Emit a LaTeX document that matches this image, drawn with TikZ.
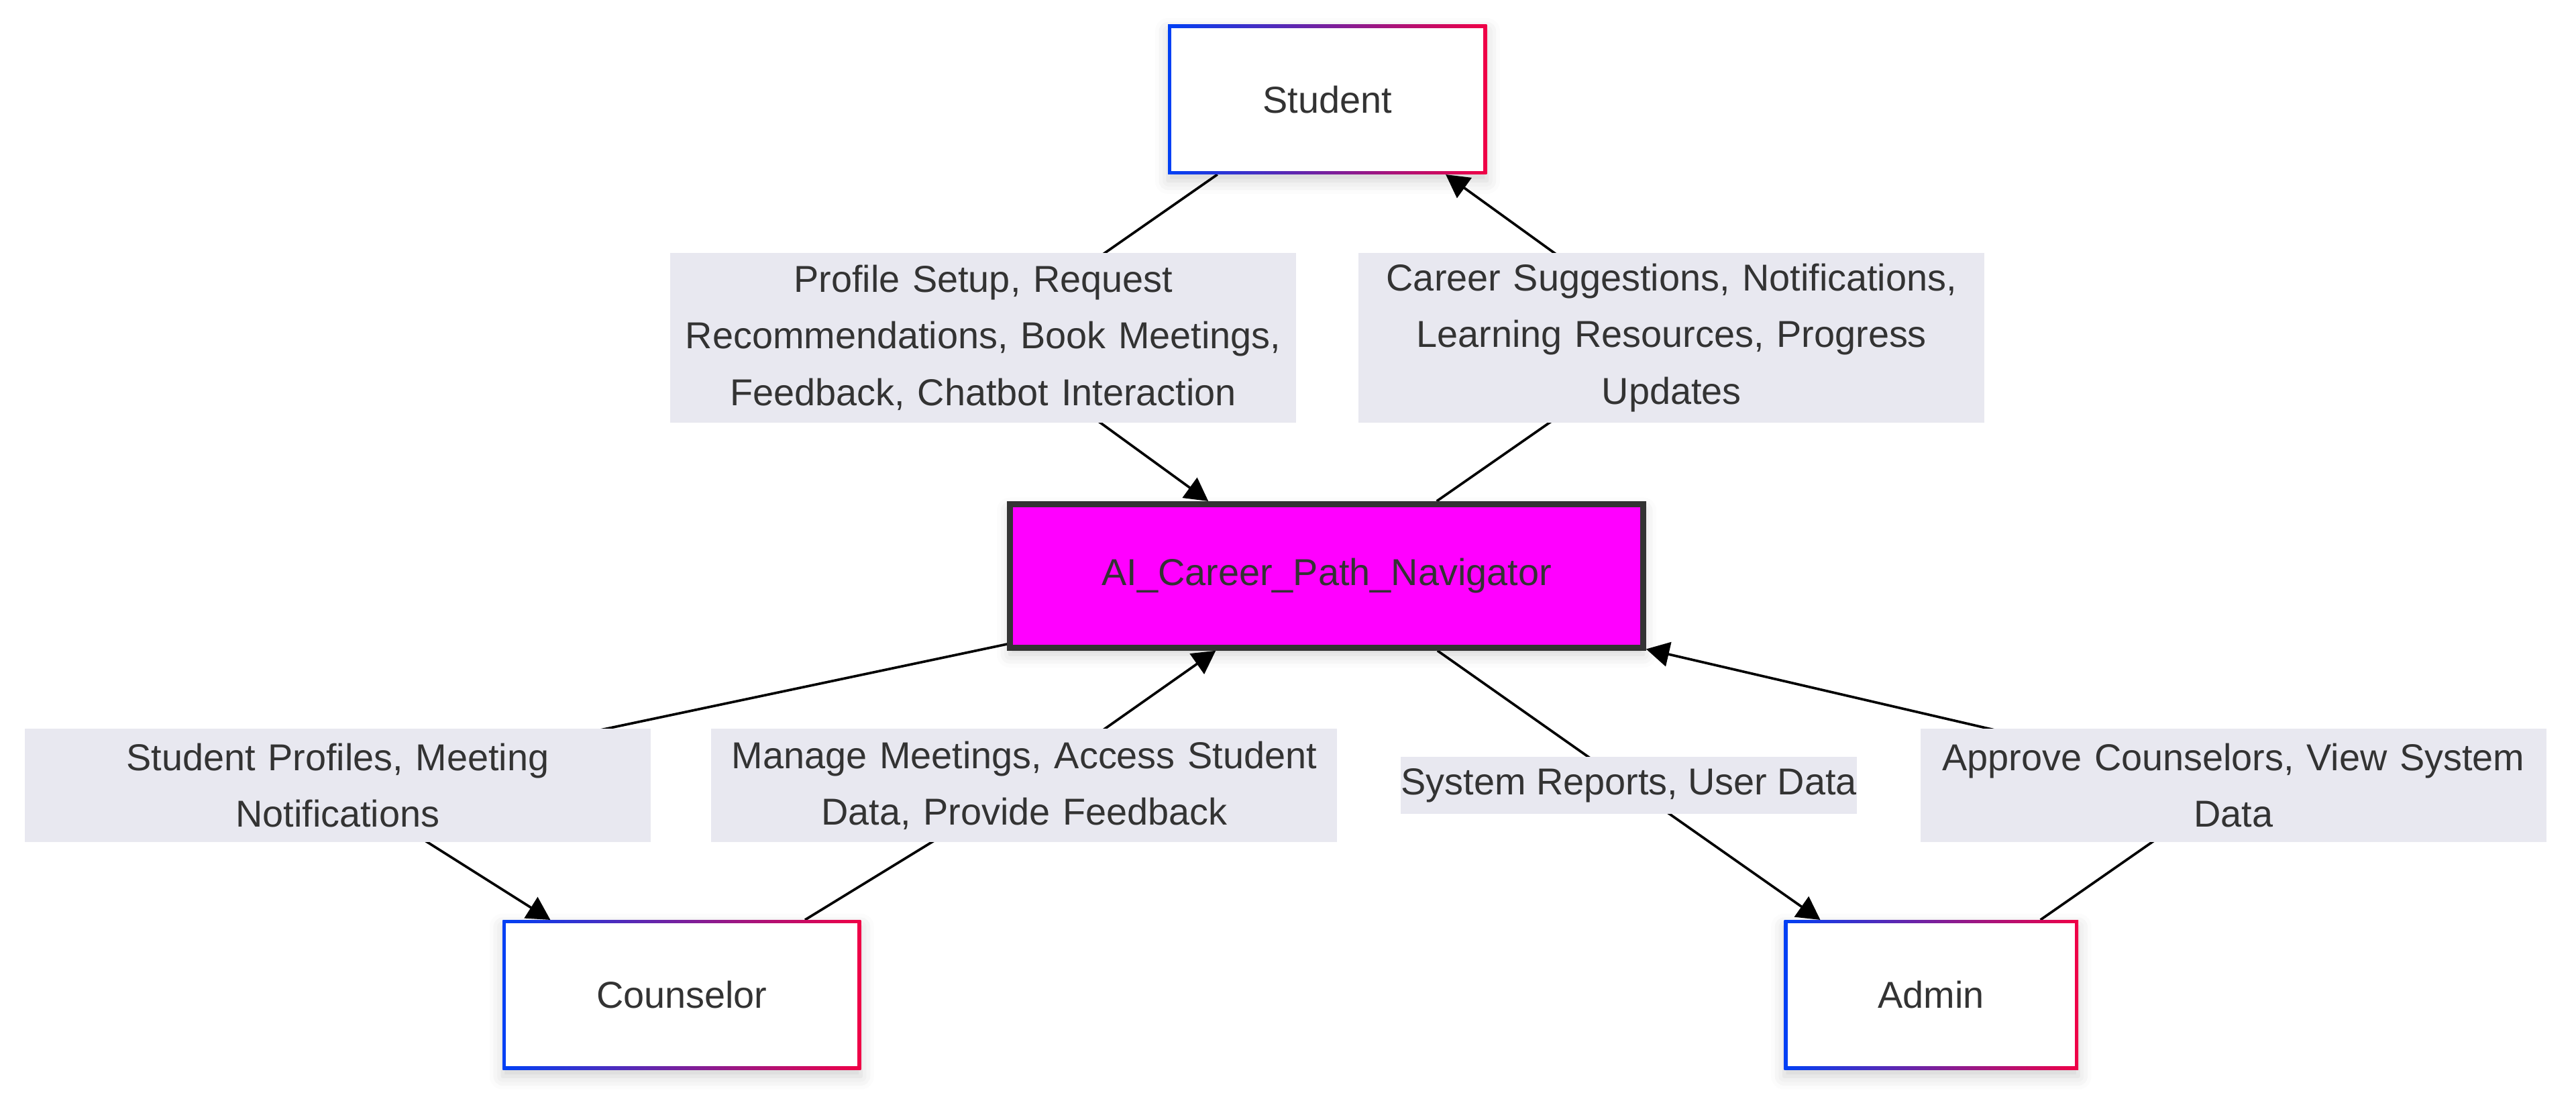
\documentclass[tikz,border=0pt]{standalone}
\usepackage{fontspec}
\setmainfont{Liberation Sans}
\usetikzlibrary{arrows.meta,backgrounds,shadows.blur}
\definecolor{ink}{RGB}{51,51,51}
\definecolor{lblgray}{RGB}{232,232,240}
\definecolor{navfill}{RGB}{255,0,255}
\definecolor{rimblue}{RGB}{0,64,245}
\definecolor{rimred}{RGB}{240,0,70}
\begin{document}
\begin{tikzpicture}[x=1pt,y=1pt,
  font=\fontsize{22.8}{34.5}\selectfont, text=ink,
  role/.style={minimum height=91pt, inner sep=0pt, left color=rimblue, right color=rimred,
    blur shadow={shadow xshift=0pt, shadow yshift=-4pt, shadow blur radius=8pt, shadow opacity=18},
    path picture={\fill[white] ([xshift=2pt,yshift=-2pt]path picture bounding box.north west)
      rectangle ([xshift=-2pt,yshift=2pt]path picture bounding box.south east);}},
  core/.style={draw=ink, line width=3.5pt, fill=navfill, minimum width=385.5pt, minimum height=87.5pt,
    blur shadow={shadow xshift=0pt, shadow yshift=-4pt, shadow blur radius=8pt, shadow opacity=18}},
  lbl/.style={fill=lblgray, inner sep=0pt, align=center},
  flow/.style={draw=black, line width=1.5pt, rounded corners=38pt, -{Triangle[length=14pt,width=15pt]}}]
  \useasboundingbox (0,0) rectangle (1568,-667.6);

  \node[role, minimum width=194pt] (stu) at (808,-60.5) {Student};
  \node[core] (nav) at (807.5,-350.5) {AI\_Career\_Path\_Navigator};
  \node[role, minimum width=218pt] (cou) at (415,-605.5) {Counselor};
  \node[role, minimum width=179pt] (adm) at (1175.5,-605.5) {Admin};

  \node[lbl, text width=381pt, minimum height=103.5pt] (l1) at (598.5,-205.5)
    {Profile Setup, Request\\Recommendations, Book Meetings,\\Feedback, Chatbot Interaction};
  \node[lbl, text width=381pt, minimum height=103.5pt] (l2) at (1017.5,-205.5)
    {Career Suggestions, Notifications,\\Learning Resources, Progress\\Updates};
  \node[lbl, text width=381pt, minimum height=69pt] (l3) at (205.5,-478)
    {Student Profiles, Meeting\\Notifications};
  \node[lbl, text width=381pt, minimum height=69pt] (l4) at (623.5,-478)
    {Manage Meetings, Access Student\\Data, Provide Feedback};
  \node[lbl, minimum height=34.5pt] (l5) at (991.5,-478) {System Reports, User Data};
  \node[lbl, text width=381pt, minimum height=69pt] (l6) at (1359.5,-478)
    {Approve Counselors, View System\\Data};

  \begin{scope}[on background layer]
    \draw[flow] ([xshift=-67pt]stu.south) -- (l1.center) -- ([xshift=-72pt]nav.north);
    \draw[flow] ([xshift=67pt]nav.north) -- (l2.center) -- ([xshift=72pt]stu.south);
    \draw[flow] ([yshift=4pt]nav.south west) -- (l3.center) -- ([xshift=-80pt]cou.north);
    \draw[flow] ([xshift=75pt]cou.north) -- (l4.center) -- ([xshift=-67.5pt]nav.south);
    \draw[flow] ([xshift=67.5pt]nav.south) -- (l5.center) -- ([xshift=-67.5pt]adm.north);
    \draw[flow] ([xshift=66.5pt]adm.north) -- (l6.center) -- ([yshift=1pt]nav.south east);
  \end{scope}
\end{tikzpicture}
\end{document}
